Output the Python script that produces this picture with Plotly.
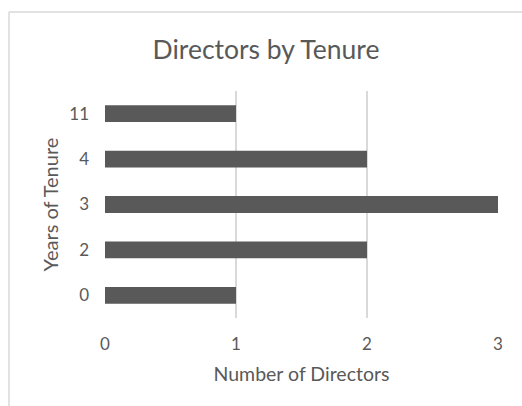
import plotly.graph_objects as go

tenure = ["0", "2", "3", "4", "11"]
directors = [1, 2, 3, 2, 1]
x_ticks = [0, 1, 2, 3]

W, H = 522, 406
L, R, T, B = 105, 24, 91, 88
pw, ph = W - L - R, H - T - B

def px_x(px):
    return (px - L) / pw

def px_y(py):
    return (H - B - py) / ph

grey = "#595959"
font = "Lato, Open Sans, sans-serif"

fig = go.Figure(go.Bar(
    x=directors, y=tenure, orientation="h",
    marker=dict(color=grey, line=dict(width=0)),
    width=0.37,
))

fig.update_layout(
    width=W, height=H,
    margin=dict(l=L, r=R, t=T, b=B),
    paper_bgcolor="white", plot_bgcolor="white",
    showlegend=False,
    font=dict(family=font, color=grey),
    title=dict(text="Directors by Tenure", x=px_x(266), xref="paper",
               xanchor="center", y=1 - 50 / H, yanchor="middle",
               font=dict(size=26.5, color=grey, family=font)),
    xaxis=dict(range=[0, 3], tickvals=x_ticks, showgrid=True,
               gridcolor="#d9d9d9", gridwidth=1.5, zeroline=False,
               showline=False, ticks="", tickfont=dict(size=17, color=grey),
               ticklabelstandoff=14,
               title=dict(text="Number of Directors", font=dict(size=19.5, color=grey), standoff=14)),
    yaxis=dict(type="category", categoryorder="array", categoryarray=tenure,
               showgrid=False, zeroline=False, showline=False, ticks="",
               tickfont=dict(size=17, color=grey), ticklabelstandoff=15,
               title=dict(text="Years of Tenure", font=dict(size=20, color=grey), standoff=5)),
    shapes=[
        dict(type="line", xref="paper", yref="paper",
             x0=px_x(9), x1=px_x(9), y0=px_y(12), y1=px_y(H + 5),
             line=dict(color="#d9d9d9", width=1.5)),
        dict(type="line", xref="paper", yref="paper",
             x0=px_x(9), x1=px_x(W + 5), y0=px_y(12), y1=px_y(12),
             line=dict(color="#d9d9d9", width=1.5)),
    ],
)

fig.write_html("out.html", config={"displayModeBar": False},
               post_script="document.body.style.margin='0';")
